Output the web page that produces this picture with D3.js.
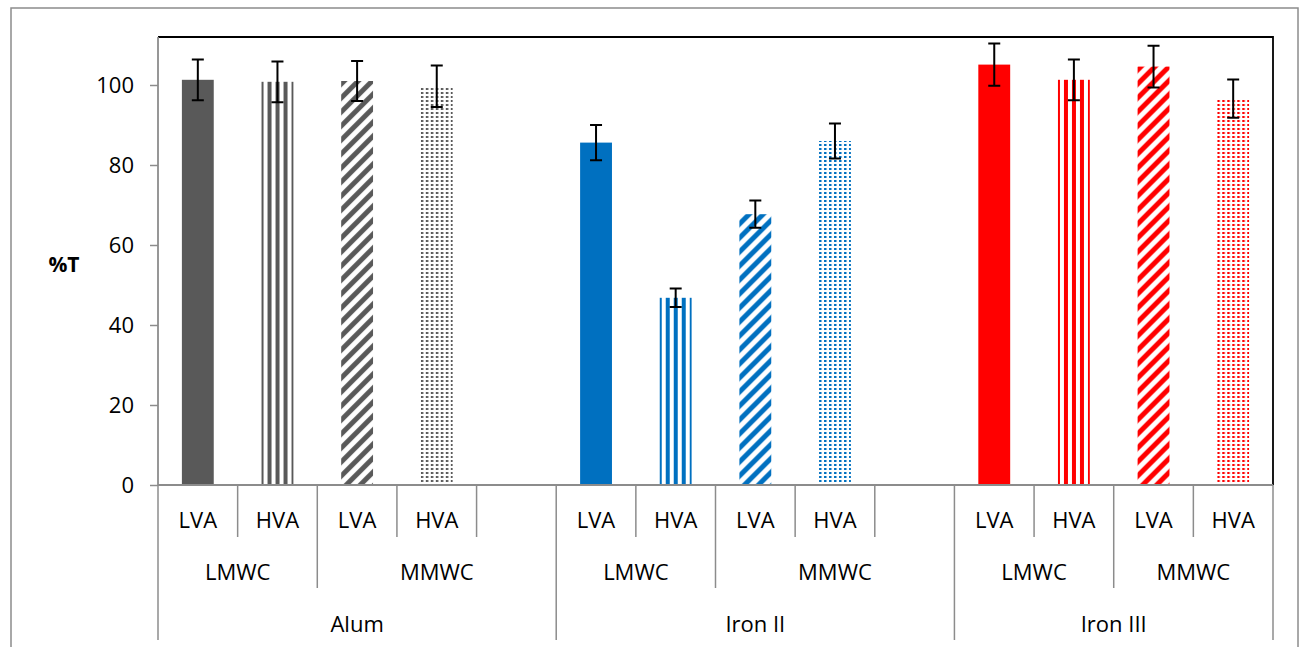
<!DOCTYPE html>
<html>
<head>
<meta charset="utf-8">
<script src="https://cdn.jsdelivr.net/npm/d3@7"></script>
<style>
  body { margin: 0; background: #fff; }
  text { font-family: "Open Sans", Lato, sans-serif; fill: #000; }
</style>
</head>
<body>
<svg id="chart" width="1301" height="647"></svg>
<script>
const groups = ['Alum', 'Iron II', 'Iron III'];
const chains = ['LMWC', 'MMWC'];
const acids = ['LVA', 'HVA'];
const groupColors = ['#595959', '#0070C0', '#FF0000'];

// %T per group, order: LMWC-LVA, LMWC-HVA, MMWC-LVA, MMWC-HVA
const alumValues = [101.3, 100.8, 101.0, 99.7];
const iron2Values = [85.6, 46.8, 67.7, 86.0];
const iron3Values = [105.1, 101.3, 104.6, 96.6];
const alumErrors = [5.1, 5.1, 5.0, 5.2];
const iron2Errors = [4.4, 2.3, 3.4, 4.4];
const iron3Errors = [5.3, 5.1, 5.2, 4.8];
const yTicks = [0, 20, 40, 60, 80, 100];

const values = [alumValues, iron2Values, iron3Values];
const errors = [alumErrors, iron2Errors, iron3Errors];

// flatten to category slots; Alum and Iron II carry an empty slot at the end
const slots = [];
groups.forEach((g, gi) => {
  chains.forEach((c, ci) => {
    acids.forEach((a, ai) => {
      const k = ci * 2 + ai;
      slots.push({ group: gi, chain: ci, acid: a, pattern: k, value: values[gi][k], err: errors[gi][k] });
    });
  });
  if (gi < groups.length - 1) slots.push({ group: gi, chain: 1, acid: '', value: null });
});
slots.forEach((d, i) => { d.idx = i; });

const svg = d3.select('#chart');
const plot = { left: 158, top: 37, right: 1273, bottom: 485 };

const x = d3.scaleBand()
  .domain(slots.map(d => d.idx))
  .range([plot.left, plot.right])
  .paddingInner(0.6)
  .paddingOuter(0.3);
const xEdge = d3.scaleLinear().domain([0, slots.length]).range([plot.left, plot.right]);
const y = d3.scaleLinear().domain([0, 112]).range([plot.bottom, plot.top]);

const data = slots.filter(d => d.value != null);

// one pattern per bar so the hatch lines up with the bar's left edge
const defs = svg.append('defs');
data.forEach(d => {
  const col = groupColors[d.group];
  const bx = x(d.idx);
  if (d.pattern === 1) {
    defs.append('pattern').attr('id', `pat-${d.idx}`)
      .attr('patternUnits', 'userSpaceOnUse').attr('x', bx - 2).attr('y', 0)
      .attr('width', 8).attr('height', 8)
      .append('rect').attr('width', 4).attr('height', 8).attr('fill', col);
  } else if (d.pattern === 2) {
    const s = 14;
    defs.append('pattern').attr('id', `pat-${d.idx}`)
      .attr('patternUnits', 'userSpaceOnUse').attr('x', bx).attr('y', 0)
      .attr('width', s).attr('height', s)
      .append('path')
      .attr('d', `M-4,4 L4,-4 M0,${s} L${s},0 M${s - 4},${s + 4} L${s + 4},${s - 4}`)
      .attr('stroke', col).attr('stroke-width', 5);
  } else if (d.pattern === 3) {
    defs.append('pattern').attr('id', `pat-${d.idx}`)
      .attr('patternUnits', 'userSpaceOnUse').attr('x', bx).attr('y', 0)
      .attr('width', 5).attr('height', 4)
      .append('rect').attr('width', 2.5).attr('height', 2).attr('fill', col);
  }
});

const fillFor = d => d.pattern === 0 ? groupColors[d.group] : `url(#pat-${d.idx})`;

// outer chart border
svg.append('rect')
  .attr('x', 11).attr('y', 8).attr('width', 1287).attr('height', 660)
  .attr('fill', 'none').attr('stroke', '#8c8c8c').attr('stroke-width', 1.5);

// plot area frame (top/right dark)
svg.append('path')
  .attr('d', `M${plot.left},${plot.top}H${plot.right}V${plot.bottom}`)
  .attr('fill', 'none').attr('stroke', '#000').attr('stroke-width', 1.8);

// bars
svg.append('g').selectAll('rect').data(data).join('rect')
  .attr('x', d => x(d.idx))
  .attr('y', d => y(d.value))
  .attr('width', x.bandwidth())
  .attr('height', d => y(0) - y(d.value))
  .attr('fill', fillFor);

// error bars
const cap = 6;
const eb = svg.append('g').attr('stroke', '#000').attr('stroke-width', 2).attr('fill', 'none');
eb.selectAll('path').data(data).join('path')
  .attr('d', d => {
    const cx = x(d.idx) + x.bandwidth() / 2;
    const y1 = y(d.value + d.err), y0 = y(d.value - d.err);
    return `M${cx - cap},${y1}H${cx + cap}M${cx},${y1}V${y0}M${cx - cap},${y0}H${cx + cap}`;
  });

// y axis
const yAxis = svg.append('g')
  .attr('transform', `translate(${plot.left},0)`)
  .call(d3.axisLeft(y).tickValues(yTicks).tickSize(8).tickPadding(16).tickSizeOuter(0));
yAxis.select('.domain').remove();
yAxis.selectAll('.tick line').attr('stroke', '#8c8c8c').attr('stroke-width', 1.5);
yAxis.selectAll('.tick text')
  .style('font-size', '22px').style('font-family', '"Open Sans", Lato, sans-serif')
  .attr('fill', '#000');

// x axis line and left axis line
const axisCol = '#8c8c8c';
svg.append('line')
  .attr('x1', plot.left).attr('x2', plot.right).attr('y1', y(0)).attr('y2', y(0))
  .attr('stroke', axisCol).attr('stroke-width', 1.8);
svg.append('line')
  .attr('x1', plot.left).attr('x2', plot.left).attr('y1', plot.top).attr('y2', plot.bottom)
  .attr('stroke', axisCol).attr('stroke-width', 1.8);

// category separators: row 1 every slot, row 2 at chain changes, row 3 at group changes
const rowBottoms = [537, 588, 640];
const bounds = d3.range(slots.length + 1).map(i => {
  let level = 0;
  if (i === 0 || i === slots.length || slots[i].group !== slots[i - 1].group) level = 2;
  else if (slots[i].chain !== slots[i - 1].chain) level = 1;
  return { i, level };
});
svg.append('g').selectAll('line').data(bounds).join('line')
  .attr('x1', d => xEdge(d.i)).attr('x2', d => xEdge(d.i))
  .attr('y1', y(0)).attr('y2', d => rowBottoms[d.level])
  .attr('stroke', axisCol).attr('stroke-width', 1.5);

// category labels
const labels = svg.append('g').style('font-size', '22px').attr('text-anchor', 'middle');
labels.selectAll('text.acid').data(slots.filter(d => d.acid)).join('text')
  .attr('class', 'acid')
  .attr('x', d => x(d.idx) + x.bandwidth() / 2)
  .attr('y', 528)
  .text(d => d.acid);

const chainSpans = d3.flatRollup(slots, v => [d3.min(v, d => d.idx), d3.max(v, d => d.idx) + 1], d => d.group, d => d.chain);
labels.selectAll('text.chain').data(chainSpans).join('text')
  .attr('class', 'chain')
  .attr('x', d => (xEdge(d[2][0]) + xEdge(d[2][1])) / 2)
  .attr('y', 580)
  .text(d => chains[d[1]]);

const groupSpans = d3.flatRollup(slots, v => [d3.min(v, d => d.idx), d3.max(v, d => d.idx) + 1], d => d.group);
labels.selectAll('text.group').data(groupSpans).join('text')
  .attr('class', 'group')
  .attr('x', d => (xEdge(d[1][0]) + xEdge(d[1][1])) / 2)
  .attr('y', 632)
  .text(d => groups[d[0]]);

// y axis title
svg.append('text')
  .attr('x', 64).attr('y', 272)
  .attr('text-anchor', 'middle')
  .style('font-size', '21px').style('font-weight', 'bold')
  .text('%T');
</script>
</body>
</html>
